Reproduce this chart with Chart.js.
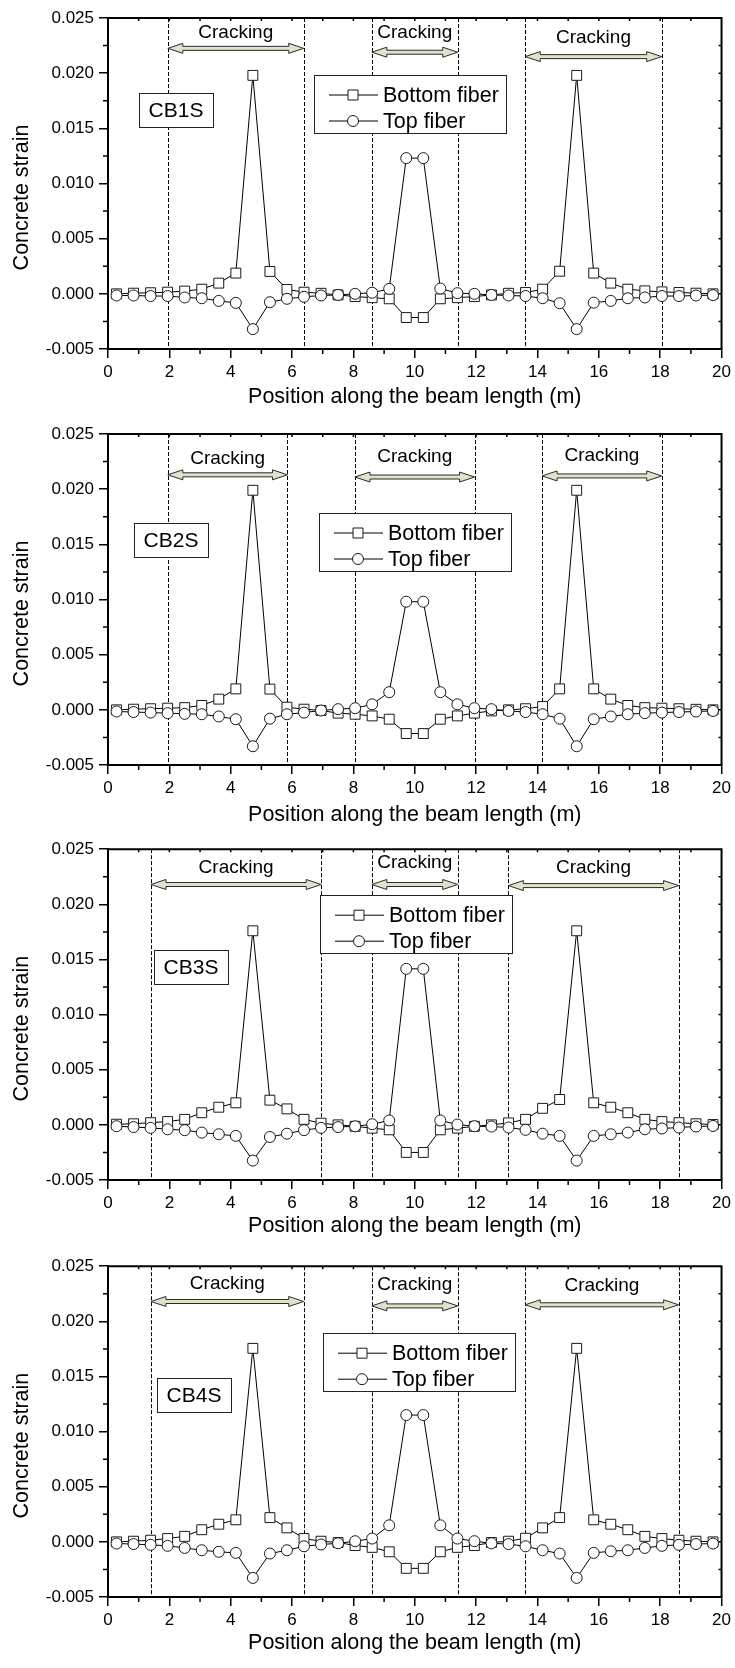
<!DOCTYPE html>
<html>
<head>
    <title>Concrete strain along the beam</title>
    <meta charset="utf-8" />
    <script src="https://cdn.jsdelivr.net/npm/chart.js"></script>
    <style>
        body { margin: 0; background: #fff; }
        .chart-box { width: 735px; height: 417px; }
        .chart-box canvas { display: block; }
    </style>
</head>
<body>

    <div class="chart-box"><canvas id="cb1sChart" width="735" height="417"></canvas></div>
    <div class="chart-box"><canvas id="cb2sChart" width="735" height="417"></canvas></div>
    <div class="chart-box"><canvas id="cb3sChart" width="735" height="417"></canvas></div>
    <div class="chart-box"><canvas id="cb4sChart" width="735" height="417"></canvas></div>

    <script>
        // element centres along the beam (m)
        const positions = [0.278, 0.833, 1.389, 1.944, 2.5, 3.056, 3.611, 4.167, 4.722, 5.278, 5.833, 6.389,
            6.944, 7.5, 8.056, 8.611, 9.167, 9.722, 10.278, 10.833, 11.389, 11.944, 12.5, 13.056,
            13.611, 14.167, 14.722, 15.278, 15.833, 16.389, 16.944, 17.5, 18.056, 18.611, 19.167, 19.722];

        // CB1S
        const cb1sBottom = [0.0, 0.00006, 0.0001, 0.00015, 0.00025, 0.00042, 0.00097, 0.00188, 0.0198, 0.00203, 0.0004, 0.00015,
            0.00005, -0.0001, -0.00025, -0.00035, -0.00045, -0.00215, -0.00215, -0.00045, -0.00035, -0.00025, -0.0001, 0.00005,
            0.00012, 0.00042, 0.00205, 0.0198, 0.00188, 0.00097, 0.00042, 0.00027, 0.00018, 0.00012, 0.00006, 0.0];
        const cb1sTop = [-0.00015, -0.00015, -0.0002, -0.0002, -0.00033, -0.0004, -0.00064, -0.00082, -0.0032, -0.00076, -0.00045, -0.00027,
            -0.00015, -0.0001, 0.0, 0.0001, 0.00045, 0.0123, 0.0123, 0.00048, 0.00006, 0.0, -0.0001, -0.00015,
            -0.0002, -0.0004, -0.00085, -0.0032, -0.0008, -0.00064, -0.0004, -0.00033, -0.0002, -0.0002, -0.00015, -0.00012];
        const cb1sCracks = [[1.95, 6.38], [8.6, 11.4], [13.6, 18.05]];
        const cb1sArrowY = [0.02225, 0.0219, 0.0215];
        const cb1sTextY = [0.0237, 0.0237, 0.02325];

        // CB2S
        const cb2sBottom = [0.0, 0.00006, 0.0001, 0.00015, 0.0002, 0.0004, 0.00097, 0.0019, 0.0199, 0.00188, 0.00024, 0.00006,
            -0.00006, -0.0003, -0.0004, -0.00055, -0.00085, -0.00215, -0.00215, -0.00085, -0.00055, -0.0003, -0.0001, 0.0,
            0.0001, 0.0003, 0.0019, 0.0199, 0.0019, 0.00097, 0.0004, 0.0002, 0.00015, 0.0001, 0.00005, 0.0];
        const cb2sTop = [-0.00015, -0.0002, -0.00025, -0.0003, -0.00036, -0.0004, -0.0006, -0.00085, -0.0033, -0.0008, -0.0004, -0.00025,
            -0.00006, 0.00006, 0.00015, 0.0005, 0.0016, 0.0098, 0.0098, 0.0016, 0.0005, 0.00015, 0.00006, -0.0001,
            -0.0002, -0.0004, -0.0008, -0.0033, -0.00085, -0.0006, -0.0004, -0.0003, -0.00025, -0.0002, -0.00015, -0.0001];
        const cb2sCracks = [[1.95, 5.85], [8.05, 11.95], [14.15, 18.05]];
        const cb2sArrowY = [0.0213, 0.0211, 0.0212];
        const cb2sTextY = [0.0228, 0.0229, 0.023];

        // CB3S
        const cb3sBottom = [0.00006, 0.0001, 0.0002, 0.0003, 0.0005, 0.0011, 0.0016, 0.002, 0.0176, 0.00224, 0.00145, 0.0005,
            0.00015, 0.0, -0.00013, -0.0003, -0.00045, -0.0025, -0.0025, -0.00045, -0.0003, -0.00013, 0.0, 0.00018,
            0.0005, 0.0015, 0.0023, 0.0176, 0.002, 0.0016, 0.0011, 0.0005, 0.0003, 0.0002, 0.0001, 0.00003];
        const cb3sTop = [-0.00012, -0.0002, -0.00027, -0.0004, -0.00048, -0.0007, -0.00085, -0.001, -0.00324, -0.0011, -0.0008, -0.00048,
            -0.00027, -0.0002, -0.00013, 0.00006, 0.0004, 0.01415, 0.01415, 0.0004, 0.00003, -0.00012, -0.00015, -0.00024,
            -0.00045, -0.0008, -0.001, -0.00324, -0.001, -0.00085, -0.0007, -0.0004, -0.00033, -0.00024, -0.00015, -0.0001];
        const cb3sCracks = [[1.4, 6.95], [8.6, 11.4], [13.05, 18.6]];
        const cb3sArrowY = [0.0218, 0.0218, 0.0217];
        const cb3sTextY = [0.0233, 0.0238, 0.0233];

        // CB4S
        const cb4sBottom = [0.0, 0.00006, 0.00015, 0.0003, 0.0005, 0.0011, 0.0016, 0.002, 0.01755, 0.0022, 0.00127, 0.0003,
            0.00006, -0.00006, -0.00033, -0.0005, -0.0009, -0.0024, -0.0024, -0.0009, -0.0005, -0.00033, -0.00006, 0.00006,
            0.00033, 0.00127, 0.0022, 0.01755, 0.002, 0.0016, 0.0011, 0.0005, 0.0003, 0.00015, 0.00006, 0.0];
        const cb4sTop = [-0.00015, -0.0002, -0.00027, -0.00036, -0.00055, -0.00076, -0.0009, -0.001, -0.00327, -0.00106, -0.00076, -0.0004,
            -0.00024, -0.00013, 0.00006, 0.0003, 0.0015, 0.0115, 0.0115, 0.0015, 0.0003, 0.00006, -0.00013, -0.0002,
            -0.0004, -0.00076, -0.00106, -0.00327, -0.001, -0.00085, -0.00076, -0.00055, -0.00036, -0.00027, -0.0002, -0.00015];
        const cb4sCracks = [[1.4, 6.38], [8.6, 11.4], [13.6, 18.6]];
        const cb4sArrowY = [0.0218, 0.0214, 0.0215];
        const cb4sTextY = [0.02345, 0.0233, 0.0232];

        const seriesNames = ['Bottom fiber', 'Top fiber'];
        const crackLabel = 'Cracking';
        const xTitle = 'Position along the beam length (m)';
        const yTitle = 'Concrete strain';

        const FONT = '"Liberation Sans", Arial, sans-serif';

        const panels = [
            { id: 'cb1sChart', name: 'CB1S', bottom: cb1sBottom, top: cb1sTop, cracks: cb1sCracks, arrowY: cb1sArrowY, textY: cb1sTextY,
              areaTop: 18, xTitleGap: 48, legendAt: [206, 57], labelAt: [31, 75] },
            { id: 'cb2sChart', name: 'CB2S', bottom: cb2sBottom, top: cb2sTop, cracks: cb2sCracks, arrowY: cb2sArrowY, textY: cb2sTextY,
              areaTop: 17, xTitleGap: 50, legendAt: [211, 79], labelAt: [26, 89] },
            { id: 'cb3sChart', name: 'CB3S', bottom: cb3sBottom, top: cb3sTop, cracks: cb3sCracks, arrowY: cb3sArrowY, textY: cb3sTextY,
              areaTop: 15, xTitleGap: 46, legendAt: [212, 46], labelAt: [46, 101] },
            { id: 'cb4sChart', name: 'CB4S', bottom: cb4sBottom, top: cb4sTop, cracks: cb4sCracks, arrowY: cb4sArrowY, textY: cb4sTextY,
              areaTop: 15, xTitleGap: 46, legendAt: [215, 67], labelAt: [49, 112] }
        ];

        function drawMarker(ctx, style, cx, cy) {
            ctx.beginPath();
            if (style === 'rect') {
                ctx.rect(cx - 5, cy - 5, 10, 10);
            } else {
                ctx.arc(cx, cy, 5.5, 0, Math.PI * 2);
            }
            ctx.fillStyle = '#fff';
            ctx.fill();
            ctx.strokeStyle = '#1a1a1a';
            ctx.lineWidth = 1;
            ctx.stroke();
        }

        function drawArrow(ctx, x1, x2, yy) {
            const hl = 15, hh = 5, sh = 2;
            ctx.beginPath();
            ctx.moveTo(x1, yy);
            ctx.lineTo(x1 + hl, yy - hh);
            ctx.lineTo(x1 + hl, yy - sh);
            ctx.lineTo(x2 - hl, yy - sh);
            ctx.lineTo(x2 - hl, yy - hh);
            ctx.lineTo(x2, yy);
            ctx.lineTo(x2 - hl, yy + hh);
            ctx.lineTo(x2 - hl, yy + sh);
            ctx.lineTo(x1 + hl, yy + sh);
            ctx.lineTo(x1 + hl, yy + hh);
            ctx.closePath();
            ctx.fillStyle = '#dde4ca';
            ctx.fill();
            ctx.strokeStyle = '#2a2a2a';
            ctx.lineWidth = 1;
            ctx.stroke();
        }

        // dashed crack limits, arrows, legend, label box, frame and minor ticks
        function panelExtras(p) {
            return {
                id: 'panelExtras',
                beforeDatasetsDraw(chart) {
                    const { ctx, chartArea: a, scales: { x } } = chart;
                    ctx.save();
                    ctx.strokeStyle = '#000';
                    ctx.lineWidth = 1;
                    ctx.setLineDash([4, 2]);
                    p.cracks.forEach(zone => {
                        zone.forEach(v => {
                            const px = Math.round(x.getPixelForValue(v)) + 0.5;
                            ctx.beginPath();
                            ctx.moveTo(px, a.top);
                            ctx.lineTo(px, a.bottom);
                            ctx.stroke();
                        });
                    });
                    ctx.restore();
                },
                afterDatasetsDraw(chart) {
                    const { ctx, chartArea: a, scales: { x, y } } = chart;
                    ctx.save();

                    // cracking arrows
                    p.cracks.forEach((zone, i) => {
                        const x1 = x.getPixelForValue(zone[0]);
                        const x2 = x.getPixelForValue(zone[1]);
                        drawArrow(ctx, x1, x2, y.getPixelForValue(p.arrowY[i]));
                        ctx.fillStyle = '#000';
                        ctx.font = '19px ' + FONT;
                        ctx.textAlign = 'center';
                        ctx.textBaseline = 'middle';
                        ctx.fillText(crackLabel, (x1 + x2) / 2, y.getPixelForValue(p.textY[i]));
                    });

                    // legend
                    const lx = a.left + p.legendAt[0], ly = a.top + p.legendAt[1];
                    ctx.fillStyle = '#fff';
                    ctx.fillRect(lx, ly, 192, 58);
                    ctx.strokeStyle = '#222';
                    ctx.lineWidth = 1;
                    ctx.strokeRect(Math.round(lx) + 0.5, Math.round(ly) + 0.5, 192, 58);
                    chart.data.datasets.forEach((ds, i) => {
                        const iy = ly + 20 + i * 26;
                        ctx.beginPath();
                        ctx.moveTo(lx + 15, iy);
                        ctx.lineTo(lx + 64, iy);
                        ctx.strokeStyle = '#000';
                        ctx.stroke();
                        drawMarker(ctx, ds.pointStyle, lx + 39, iy);
                        ctx.fillStyle = '#000';
                        ctx.font = '21.5px ' + FONT;
                        ctx.textAlign = 'left';
                        ctx.textBaseline = 'middle';
                        ctx.fillText(ds.label, lx + 69, iy + 1);
                    });

                    // specimen label
                    const bx = a.left + p.labelAt[0], by = a.top + p.labelAt[1];
                    ctx.fillStyle = '#fff';
                    ctx.fillRect(bx, by, 74, 34);
                    ctx.strokeStyle = '#222';
                    ctx.strokeRect(Math.round(bx) + 0.5, Math.round(by) + 0.5, 74, 34);
                    ctx.fillStyle = '#000';
                    ctx.font = '21px ' + FONT;
                    ctx.textAlign = 'center';
                    ctx.textBaseline = 'middle';
                    ctx.fillText(p.name, bx + 37, by + 18);

                    // top and right frame
                    ctx.strokeStyle = '#000';
                    ctx.lineWidth = 2;
                    ctx.beginPath();
                    ctx.moveTo(a.left, a.top);
                    ctx.lineTo(a.right, a.top);
                    ctx.lineTo(a.right, a.bottom);
                    ctx.stroke();

                    // minor ticks outside, mirrored ticks inside
                    ctx.lineWidth = 1.5;
                    ctx.beginPath();
                    for (let v = 1; v < 20; v += 2) {
                        const px = x.getPixelForValue(v);
                        ctx.moveTo(px, a.bottom);
                        ctx.lineTo(px, a.bottom + 5);
                    }
                    for (let v = 1; v < 20; v += 1) {
                        const px = x.getPixelForValue(v);
                        ctx.moveTo(px, a.top);
                        ctx.lineTo(px, a.top + 3);
                    }
                    for (let k = 0; k < 6; k++) {
                        const py = y.getPixelForValue(-0.0025 + k * 0.005);
                        ctx.moveTo(a.left, py);
                        ctx.lineTo(a.left - 5, py);
                    }
                    for (let k = 1; k < 12; k++) {
                        const py = y.getPixelForValue(-0.005 + k * 0.0025);
                        ctx.moveTo(a.right, py);
                        ctx.lineTo(a.right - 3, py);
                    }
                    ctx.stroke();

                    // axis titles
                    ctx.fillStyle = '#000';
                    ctx.font = '21.5px ' + FONT;
                    ctx.textAlign = 'center';
                    ctx.textBaseline = 'middle';
                    ctx.fillText(xTitle, (a.left + a.right) / 2, a.bottom + p.xTitleGap);
                    ctx.translate(22, (a.top + a.bottom) / 2 + 14);
                    ctx.rotate(-Math.PI / 2);
                    ctx.fillText(yTitle, 0, 0);

                    ctx.restore();
                }
            };
        }

        panels.forEach(p => {
            const ctx = document.getElementById(p.id).getContext('2d');
            new Chart(ctx, {
                type: 'line',
                data: {
                    datasets: [{
                        label: seriesNames[0],
                        data: positions.map((pos, i) => ({ x: pos, y: p.bottom[i] })),
                        borderColor: '#000',
                        borderWidth: 1,
                        pointStyle: 'rect',
                        pointRadius: 7,
                        pointBackgroundColor: '#fff',
                        pointBorderColor: '#1a1a1a',
                        pointBorderWidth: 1,
                        tension: 0,
                        order: 2
                    }, {
                        label: seriesNames[1],
                        data: positions.map((pos, i) => ({ x: pos, y: p.top[i] })),
                        borderColor: '#000',
                        borderWidth: 1,
                        pointStyle: 'circle',
                        pointRadius: 5.5,
                        pointBackgroundColor: '#fff',
                        pointBorderColor: '#1a1a1a',
                        pointBorderWidth: 1,
                        tension: 0,
                        order: 1
                    }]
                },
                options: {
                    responsive: false,
                    animation: false,
                    events: [],
                    layout: { padding: { top: p.areaTop, right: 13, left: 0, bottom: 0 } },
                    plugins: { legend: { display: false }, tooltip: { enabled: false } },
                    scales: {
                        x: {
                            type: 'linear',
                            min: 0,
                            max: 20,
                            afterFit: s => { s.height = 417 - p.areaTop - 331; },
                            ticks: { stepSize: 2, padding: 4, color: '#000', font: { family: FONT, size: 17 } },
                            grid: { drawOnChartArea: false, drawTicks: true, tickLength: 9, color: '#000', lineWidth: 1.5 },
                            border: { display: true, color: '#000', width: 2 }
                        },
                        y: {
                            type: 'linear',
                            min: -0.005,
                            max: 0.025,
                            afterFit: s => { s.width = 108; },
                            ticks: {
                                stepSize: 0.005,
                                padding: 5,
                                color: '#000',
                                font: { family: FONT, size: 17 },
                                callback: v => Number(v).toFixed(3)
                            },
                            grid: { drawOnChartArea: false, drawTicks: true, tickLength: 9, color: '#000', lineWidth: 1.5 },
                            border: { display: true, color: '#000', width: 2 }
                        }
                    }
                },
                plugins: [panelExtras(p)]
            });
        });
    </script>
</body>
</html>
